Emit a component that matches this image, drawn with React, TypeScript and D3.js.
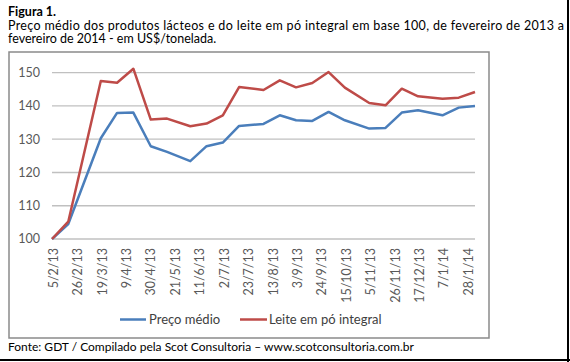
import { useMemo } from "react";
import * as d3 from "d3";

const WIDTH = 570;
const HEIGHT = 362;

// plot area inside the bordered box
const PLOT = { left: 52, right: 475, top: 72.7, bottom: 239 };

const auctionDates = [
  "5/2/13", "19/2/13", "19/3/13", "2/4/13", "16/4/13", "1/5/13", "15/5/13",
  "4/6/13", "18/6/13", "2/7/13", "16/7/13", "6/8/13", "20/8/13", "3/9/13",
  "17/9/13", "1/10/13", "15/10/13", "5/11/13", "19/11/13", "3/12/13",
  "17/12/13", "7/1/14", "21/1/14", "4/2/14",
];

const precoMedio = [
  100, 104.5, 130.3, 137.9, 138.0, 127.9, 126.2, 123.4, 127.9, 129.0, 134.0,
  134.6, 137.2, 135.7, 135.5, 138.2, 135.7, 133.2, 133.4, 138.0, 138.7, 137.2,
  139.5, 140.0,
];

const leiteEmPo = [
  100, 105.2, 147.5, 147.0, 151.2, 135.9, 136.2, 133.9, 134.7, 137.2, 145.7,
  144.8, 147.7, 145.6, 146.9, 150.2, 145.5, 140.9, 140.2, 145.2, 142.9, 142.2,
  142.5, 144.2,
];

const xTickLabels = [
  "5/2/13", "26/2/13", "19/3/13", "9/4/13", "30/4/13", "21/5/13", "11/6/13",
  "2/7/13", "23/7/13", "13/8/13", "3/9/13", "24/9/13", "15/10/13", "5/11/13",
  "26/11/13", "17/12/13", "7/1/14", "28/1/14",
];

const yTicks = [100, 110, 120, 130, 140, 150];

const seriesNames = ["Preço médio", "Leite em pó integral"];
const seriesColors = ["#4A7EBB", "#BE4B48"];

const parse = d3.timeParse("%d/%m/%y");

type Pt = { date: Date; value: number };

export default function App() {
  const dates = auctionDates.map((d) => parse(d)!);
  const series: Pt[][] = [precoMedio, leiteEmPo].map((vals) =>
    vals.map((v, i) => ({ date: dates[i], value: v }))
  );

  const xScale = useMemo(
    () =>
      d3
        .scaleTime()
        .domain([dates[0], dates[dates.length - 1]])
        .range([PLOT.left, PLOT.right]),
    []
  );
  const yScale = useMemo(
    () => d3.scaleLinear().domain([100, 150]).range([PLOT.bottom, PLOT.top]),
    []
  );

  const lineBuilder = d3
    .line<Pt>()
    .x((d) => xScale(d.date))
    .y((d) => yScale(d.value));

  const font = "Lato, 'Open Sans', sans-serif";

  return (
    <div style={{ position: "absolute", left: 0, top: 0 }}>
      <svg width={WIDTH} height={HEIGHT} style={{ display: "block" }}>
        <rect x={0} y={0} width={WIDTH} height={HEIGHT} fill="white" />

        {/* heading */}
        <text x={8} y={15.5} fontFamily={font} fontSize={12.5} fontWeight="bold" fill="#000">
          Figura 1.
        </text>
        <text
          x={8}
          y={29.5}
          fontFamily={font}
          fontSize={12.5}
          fill="#000"
          textLength={556}
          lengthAdjust="spacing"
        >
          Preço médio dos produtos lácteos e do leite em pó integral em base 100, de fevereiro de 2013 a
        </text>
        <text x={8} y={43} fontFamily={font} fontSize={12.5} fill="#000">
          fevereiro de 2014 - em US$/tonelada.
        </text>

        {/* chart box */}
        <rect x={9} y={52} width={480} height={286} fill="white" stroke="#8a8a8a" strokeWidth={1.5} />

        {/* gridlines + y labels */}
        {yTicks.map((t) => (
          <g key={t}>
            <line
              x1={PLOT.left}
              x2={PLOT.right}
              y1={yScale(t)}
              y2={yScale(t)}
              stroke="#c0c0c0"
              strokeWidth={1.3}
            />
            <text
              x={40}
              y={yScale(t)}
              dy="0.35em"
              textAnchor="end"
              fontFamily={font}
              fontSize={12.5}
              fill="#595959"
            >
              {t}
            </text>
          </g>
        ))}

        {/* x labels */}
        {xTickLabels.map((lab) => {
          const x = xScale(parse(lab)!);
          return (
            <text
              key={lab}
              transform={`translate(${x + 1.5},248) rotate(-90)`}
              dy="0.35em"
              textAnchor="end"
              fontFamily={font}
              fontSize={12.5}
              fill="#595959"
            >
              {lab}
            </text>
          );
        })}

        {/* series */}
        {series.map((s, i) => (
          <path
            key={seriesNames[i]}
            d={lineBuilder(s) || ""}
            fill="none"
            stroke={seriesColors[i]}
            strokeWidth={2.5}
            strokeLinejoin="round"
          />
        ))}

        {/* legend */}
        <g fontFamily={font} fontSize={13} fill="#404040">
          <line x1={120} x2={146} y1={319.5} y2={319.5} stroke={seriesColors[0]} strokeWidth={2.5} />
          <text x={149} y={319.5} dy="0.35em">{seriesNames[0]}</text>
          <line x1={240} x2={267} y1={319.5} y2={319.5} stroke={seriesColors[1]} strokeWidth={2.5} />
          <text x={269} y={319.5} dy="0.35em">{seriesNames[1]}</text>
        </g>

        {/* source */}
        <text x={8} y={351} fontFamily={font} fontSize={12} fill="#000">
          Fonte: GDT / Compilado pela Scot Consultoria – www.scotconsultoria.com.br
        </text>

        {/* outer frame lines */}
        <line x1={568} x2={568} y1={0} y2={HEIGHT} stroke="#000" strokeWidth={2} />
        <line x1={0} x2={WIDTH} y1={360} y2={360} stroke="#000" strokeWidth={2} />
      </svg>
    </div>
  );
}
